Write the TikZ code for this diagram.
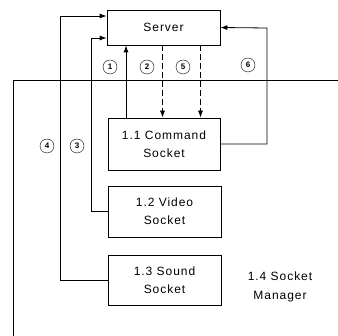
\documentclass[tikz,border=0pt]{standalone}
\usepackage{fontspec}
\newfontfamily\diagfont[LetterSpace=8]{Liberation Sans}
\usetikzlibrary{arrows.meta}

\begin{document}
\begin{tikzpicture}[x=1pt, y=-1pt,
    sockbox/.style={draw, thick, minimum width=113pt, minimum height=51pt,
        align=center, font=\diagfont\fontsize{12}{18}\selectfont},
    num/.style={draw, circle, inner sep=0pt, minimum size=14pt,
        font=\diagfont\fontsize{8}{8}\selectfont\bfseries},
    flow/.style={thick, -{Latex[length=7pt, width=5pt]}},
    dflow/.style={flow, dash pattern=on 6pt off 3pt}]

    \useasboundingbox (0,0) rectangle (338,336);

    % Manager boundary
    \draw (13,336) -- (13,80) -- (338,80);

    % Boxes
    \node[sockbox, minimum height=35pt] (server) at (163.5,27.5) {Server};
    \node[sockbox, minimum width=112pt, minimum height=52pt] (cmd) at (164,144) {1.1 Command\\Socket};
    \node[sockbox] (video) at (164.5,211.5) {1.2 Video\\Socket};
    \node[sockbox, minimum height=50pt] (sound) at (164.5,280) {1.3 Sound\\Socket};
    \node[align=center, font=\diagfont\fontsize{12}{19}\selectfont] (mgr) at (280,287) {1.4 Socket\\Manager};

    % Flows between command socket and server
    \draw[flow] ([xshift=-38pt]cmd.north) -- ([xshift=-38pt]cmd.north |- server.south);
    \draw[dflow] ([xshift=-1pt]server.south) -- ([xshift=-1pt]server.south |- cmd.north);
    \draw[dflow] ([xshift=37pt]server.south) -- ([xshift=37pt]server.south |- cmd.north);
    \draw[flow] (cmd.east) -- (267,144) -- (267,28) -- (server.east);

    % Video and sound sockets
    \draw[flow] (video.west) -- (91,211.5) -- (91,38) -- ([yshift=-10.5pt]server.west);
    \draw[flow] (sound.west) -- (60,280) -- (60,16) -- ([yshift=11.5pt]server.west);

    % Numbers
    \node[num] (n1) at (110,67) {1};
    \node[num] (n2) at (147,67) {2};
    \node[num] (n5) at (183,67) {5};
    \node[num] (n6) at (248,65) {6};
    \node[num] (n4) at (47,146) {4};
    \node[num] (n3) at (77,146) {3};

\end{tikzpicture}
\end{document}
